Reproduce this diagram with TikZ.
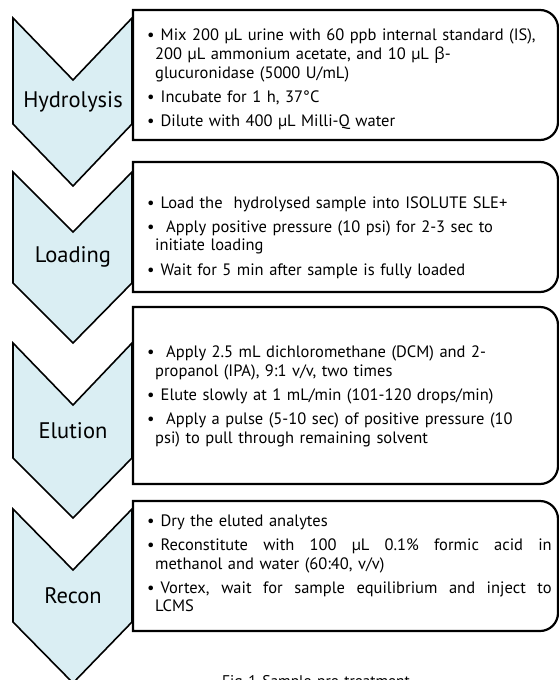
\documentclass[tikz,border=0pt]{standalone}
\usepackage{fontspec}
\setmainfont{PT Sans}[WordSpace=1.35]
\newfontfamily\grfont{Open Sans}
\definecolor{chevblue}{HTML}{DAEEF3}
\tikzset{
  chev/.style={draw=black, line width=1.6pt, fill=chevblue, line join=miter},
  boxline/.style={draw=black, line width=2.2pt, fill=white},
  lab/.style={font=\fontsize{22.5}{26}\selectfont, inner sep=0pt},
  txt/.style={anchor=west, inner sep=0pt, text width=420pt,
    font=\fontsize{16.5}{18.6}\selectfont},
  captxt/.style={font=\fontsize{15.5}{18.5}\selectfont, anchor=base west, inner sep=0pt},
}
\newcommand\bitem[1]{\par\hangindent=8pt\hangafter=1\noindent\makebox[8pt][l]{\textbullet}\ #1\par}
\newcommand\isep{\vspace{5.5pt}}
\begin{document}
\begin{tikzpicture}[x=1pt,y=1pt]
\useasboundingbox (0,0) rectangle (559,-680);
\clip (0,0) rectangle (559,-680);
% chevrons
\path[chev] (13,-18) -- (73,-80) -- (132,-18) -- (132,-124) -- (73,-186) -- (13,-124) -- cycle;
\path[chev] (13,-172) -- (73,-232) -- (132,-172) -- (132,-283) -- (73,-343) -- (13,-283) -- cycle;
\path[chev] (13,-343) -- (73,-405) -- (132,-343) -- (132,-458) -- (73,-518) -- (13,-458) -- cycle;
\path[chev] (13,-509) -- (73,-570) -- (132,-509) -- (132,-622) -- (73,-683) -- (13,-622) -- cycle;
\node[lab] (hyd) at (73,-102) {Hydrolysis};
\node[lab] (load) at (73,-257) {Loading};
\node[lab] (elu) at (73,-431) {Elution};
\node[lab] (rec) at (73,-596) {Recon};
% boxes
\draw[boxline] (133,-10) -- (540,-10) arc[start angle=90,end angle=0,radius=18] -- (558,-122) arc[start angle=0,end angle=-90,radius=18] -- (133,-140) -- cycle;
\draw[boxline] (133,-162) -- (540,-162) arc[start angle=90,end angle=0,radius=18] -- (558,-274) arc[start angle=0,end angle=-90,radius=18] -- (133,-292) -- cycle;
\draw[boxline] (133,-307) -- (540,-307) arc[start angle=90,end angle=0,radius=18] -- (558,-466) arc[start angle=0,end angle=-90,radius=18] -- (133,-484) -- cycle;
\draw[boxline] (133,-501) -- (540,-501) arc[start angle=90,end angle=0,radius=18] -- (558,-613) arc[start angle=0,end angle=-90,radius=18] -- (133,-631) -- cycle;
% texts
\node[txt] (hydtxt) at (147,-76) {%
\bitem{Mix 200 µL urine with 60 ppb internal standard (IS),\newline 200 µL ammonium acetate, and 10 µL {\grfont β}-\newline glucuronidase (5000 U/mL)}\isep
\bitem{Incubate for 1 h, 37°C}\isep
\bitem{Dilute with 400 µL Milli-Q water}};
\node[txt] (loadtxt) at (147,-234) {%
\bitem{Load the\ \ hydrolysed sample into ISOLUTE SLE+}\isep
\bitem{\ Apply positive pressure (10 psi) for 2-3 sec to\newline initiate loading}\isep
\bitem{Wait for 5 min after sample is fully loaded}};
\node[txt] (elutxt) at (147,-393) {%
\bitem{\ Apply 2.5 mL dichloromethane (DCM) and 2-\newline propanol (IPA), 9:1 v/v, two times}\isep
\bitem{Elute slowly at 1 mL/min (101-120 drops/min)}\isep
\bitem{\ Apply a pulse (5-10 sec) of positive pressure (10\newline psi) to pull through remaining solvent}};
\node[txt] (rectxt) at (147,-560) {%
\bitem{Dry the eluted analytes}\isep
\bitem{\hbox to 391pt{Reconstitute\hfill with\hfill 100\hfill µL\hfill 0.1\%\hfill formic\hfill acid\hfill in}\newline methanol and water (60:40, v/v)}\isep
\bitem{\hbox to 391pt{Vortex,\hfill wait\hfill for\hfill sample\hfill equilibrium\hfill and\hfill inject\hfill to}\newline LCMS}};
\node[captxt] (cap) at (222,-686) {Fig 1 Sample pre-treatment};
\end{tikzpicture}
\end{document}
